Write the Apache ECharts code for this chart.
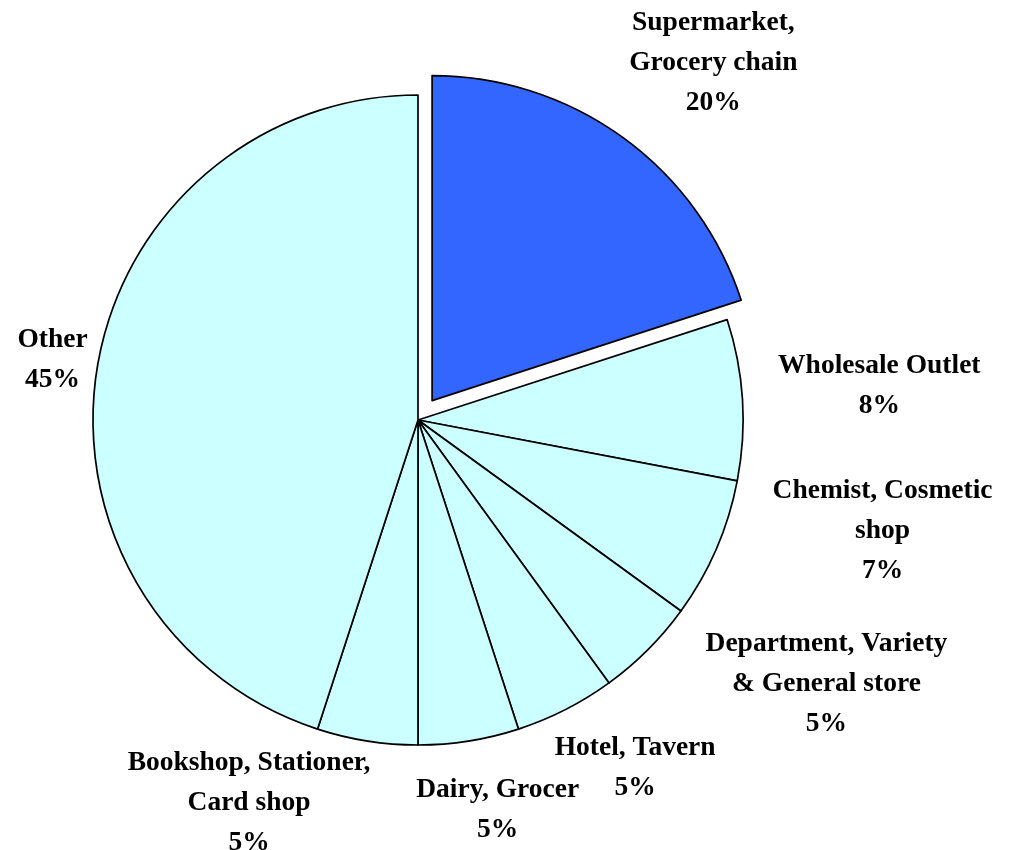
<!DOCTYPE html>
<html><head><meta charset="utf-8">
<script src="https://cdn.jsdelivr.net/npm/echarts@6/dist/echarts.min.js"></script>
<style>html,body{margin:0;padding:0;background:#fff}#c{width:1012px;height:850px}</style>
</head><body><div id="c"></div>
<script>
// ---- data ----
const categories = ['Supermarket,\nGrocery chain', 'Wholesale Outlet', 'Chemist, Cosmetic\nshop', 'Department, Variety\n& General store', 'Hotel, Tavern', 'Dairy, Grocer', 'Bookshop, Stationer,\nCard shop', 'Other'];
const values = [20, 8, 7, 5, 5, 5, 5, 45];
const explodedIndex = 0;

// ---- layout / style ----
const CX = 418, CY = 420, R = 325, OFFSET = 24, LABEL_D = 345;
const labelNudge = [[29,-10],[16,-10],[47,-50],[79,-22],[24,5],[13,10],[-96,-17],[10,0]];
const total = values.reduce((a,b)=>a+b,0);

const labelStyle = {
  show: true, position: 'outside',
  formatter: '{b}\n{d}%',
  fontFamily: 'Liberation Serif', fontWeight: 'bold', fontSize: 27.5,
  lineHeight: 40, color: '#000000', align: 'center'
};
function layoutLabel(p) {
  const i = p.dataIndex;
  let cum = 0; for (let k = 0; k < i; k++) cum += values[k];
  const mid = (cum + values[i] / 2) / total * Math.PI * 2;
  const ux = Math.sin(mid), uy = -Math.cos(mid);
  const off = i === explodedIndex ? OFFSET : 0;
  const cx = CX + ux * off, cy = CY + uy * off;
  const w = p.labelRect.width, h = p.labelRect.height;
  return {
    x: cx + ux * LABEL_D + ux * w / 2 + labelNudge[i][0],
    y: cy + uy * LABEL_D + uy * h / 2 + labelNudge[i][1],
    align: 'center', verticalAlign: 'middle'
  };
}

const chart = echarts.init(document.getElementById('c'), null, {renderer:'canvas'});
chart.setOption({
  animation: false,
  backgroundColor: '#ffffff',
  series: [{
    type: 'pie',
    center: [CX, CY],
    radius: [0, R],
    startAngle: 90,
    clockwise: true,
    avoidLabelOverlap: false,
    selectedMode: 'single',
    selectedOffset: OFFSET,
    emphasis: { disabled: true },
    itemStyle: { color: '#CCFFFF', borderColor: '#000000', borderWidth: 1.7 },
    select: { itemStyle: { color: '#3366FF', borderColor: '#000000', borderWidth: 1.7 } },
    label: labelStyle,
    labelLine: { show: false },
    labelLayout: layoutLabel,
    data: categories.map((c, i) => ({
      name: c, value: values[i], selected: i === explodedIndex,
      itemStyle: i === explodedIndex ? { color: '#3366FF' } : undefined,
      label: i === explodedIndex ? { show: false } : undefined
    }))
  }, {
    // transparent overlay that only carries the exploded slice's label
    type: 'pie',
    center: [CX, CY],
    radius: [0, R],
    startAngle: 90,
    clockwise: true,
    silent: true,
    avoidLabelOverlap: false,
    emphasis: { disabled: true },
    itemStyle: { color: 'rgba(0,0,0,0)', borderWidth: 0 },
    label: labelStyle,
    labelLine: { show: false },
    labelLayout: layoutLabel,
    data: categories.map((c, i) => ({
      name: c, value: values[i],
      label: { show: i === explodedIndex }
    }))
  }]
});
</script></body></html>
